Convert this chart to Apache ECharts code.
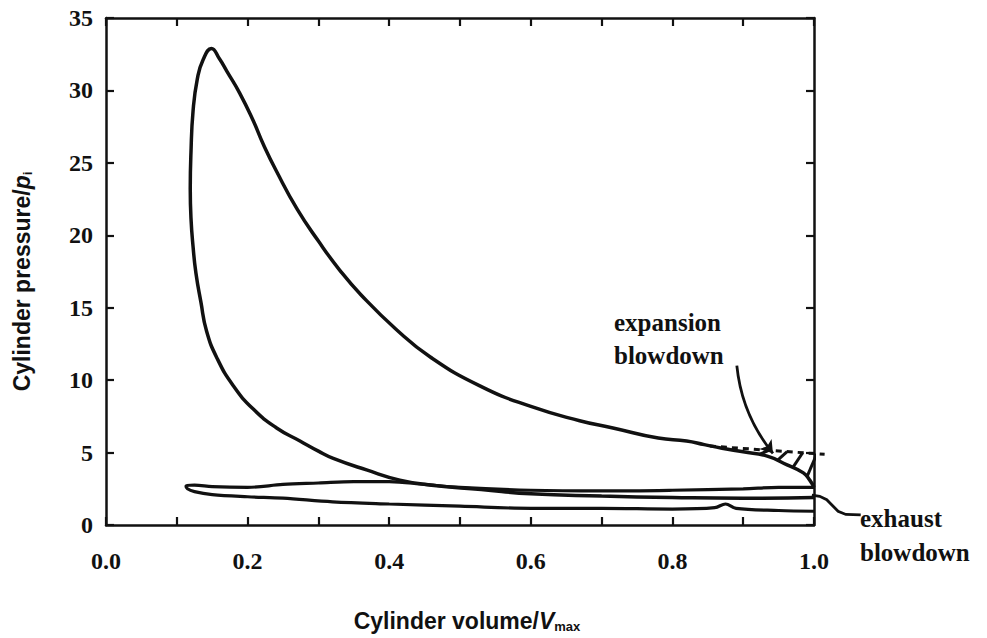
<!DOCTYPE html>
<html lang="en">
<head>
    <meta http-equiv="Content-Type" content="text/html; charset=utf-8"/>
    <title>Cylinder pressure vs volume</title>
    <script type="text/javascript" src="https://cdn.jsdelivr.net/npm/echarts@6/dist/echarts.min.js"></script>
</head>
<style>
    * {
        margin: 0;
        padding: 0;
    }
    html, body {
        width: 100%;
        height: 100%;
        background: #fff;
    }
    .main {
        width: 987px;
        height: 638px;
    }
</style>
<body>
<div id="main" class="main"></div>
</body>
<script type="text/javascript">
    // compression stroke, from BDC up the left side to the pressure peak
    var compV = [1.0, 0.9, 0.8, 0.7, 0.6, 0.53, 0.46, 0.415, 0.368, 0.321, 0.3, 0.274, 0.241, 0.208, 0.18,
        0.157, 0.142, 0.134, 0.127, 0.123, 0.12, 0.119, 0.12, 0.123, 0.129, 0.137, 0.149];
    var compP = [1.9, 1.85, 1.9, 2.0, 2.15, 2.45, 2.75, 3.1, 3.8, 4.6, 5.1, 5.8, 6.7, 8.0, 9.6,
        11.5, 13.4, 15.4, 17.4, 19.2, 21.2, 23.2, 25.7, 28.6, 30.8, 32.1, 32.9];
    // expansion stroke, from the peak down to BDC
    var expV = [0.16, 0.171, 0.189, 0.208, 0.222, 0.241, 0.27, 0.3, 0.33, 0.36, 0.41, 0.458,
        0.528, 0.599, 0.669, 0.716, 0.78, 0.82, 0.845, 0.87, 0.9, 0.934, 0.962, 0.985, 0.994, 1.0];
    var expP = [32.2, 31.3, 29.8, 27.9, 26.3, 24.4, 21.8, 19.6, 17.6, 15.9, 13.5, 11.6,
        9.6, 8.2, 7.2, 6.7, 6.0, 5.8, 5.55, 5.3, 5.05, 4.75, 4.15, 3.6, 3.1, 2.6];
    // pumping loop: exhaust stroke leftwards, then intake stroke rightwards
    var pumpV = [1.0, 0.95, 0.9, 0.8, 0.7, 0.6, 0.5, 0.45, 0.4, 0.35, 0.3, 0.25, 0.2, 0.15, 0.125, 0.113,
        0.115, 0.125, 0.15, 0.2, 0.25, 0.32, 0.4, 0.5, 0.6, 0.7, 0.8, 0.86, 0.875, 0.89, 0.95, 1.0];
    var pumpP = [2.6, 2.6, 2.5, 2.4, 2.35, 2.4, 2.6, 2.8, 3.0, 3.0, 2.9, 2.8, 2.6, 2.65, 2.75, 2.7,
        2.5, 2.3, 2.1, 1.95, 1.85, 1.6, 1.45, 1.3, 1.15, 1.15, 1.1, 1.2, 1.45, 1.15, 1.0, 0.95];
    // ideal (no blowdown) expansion line, dashed
    var dashV = [0.853, 1.015];
    var dashP = [5.45, 4.88];
    // hatching between dashed line and real curve
    var hatchV = [0.922, 0.948, 0.97, 0.99];
    // leader arrows
    var expArrowV = [0.891, 0.942];
    var expArrowP = [11.0, 4.95];
    var exhLeadV = [0.997, 1.008, 1.018, 1.026, 1.034, 1.045, 1.066];
    var exhLeadP = [2.06, 1.98, 1.75, 1.35, 0.95, 0.73, 0.7];

    var xTicks = [0, 1, 0.1];
    var yTicks = [0, 35, 5];

    function zip(a, b) {
        var out = [];
        for (var i = 0; i < a.length; i++) {
            out.push([a[i], b[i]]);
        }
        return out;
    }

    function interp(xs, ys, x) {
        for (var i = 0; i < xs.length - 1; i++) {
            if (x >= xs[i] && x <= xs[i + 1]) {
                var t = (x - xs[i]) / (xs[i + 1] - xs[i]);
                return ys[i] + t * (ys[i + 1] - ys[i]);
            }
        }
        return ys[ys.length - 1];
    }

    var loopData = zip(compV, compP).concat(zip(expV, expP));
    var hatchData = hatchV.map(function (v) {
        var v2 = v + 0.014;
        return {coords: [[v, interp(expV, expP, v)], [v2, interp(dashV, dashP, v2)]]};
    });

    var serif = '"Liberation Serif", "DejaVu Serif", serif';
    var sans = '"Liberation Sans", Arial, sans-serif';
    var ink = '#111';

    var axisLine = {show: true, onZero: false, lineStyle: {color: ink, width: 2.5}};
    var tick = {show: true, inside: true, length: 8, lineStyle: {color: ink, width: 2.2}};

    var chart = echarts.init(document.getElementById('main'), null, {renderer: 'svg'});

    var option = {
        backgroundColor: '#fff',
        animation: false,
        grid: {left: 106, right: 173, top: 18, bottom: 111},
        xAxis: [
            {
                type: 'value',
                min: xTicks[0], max: xTicks[1], interval: xTicks[2],
                axisLine: axisLine,
                axisTick: tick,
                splitLine: {show: false},
                axisLabel: {
                    margin: 24,
                    color: ink,
                    fontFamily: serif,
                    fontWeight: 'bold',
                    fontSize: 24,
                    formatter: function (v) {
                        var k = Math.round(v * 10);
                        return k % 2 === 0 ? (k / 10).toFixed(1) : '';
                    }
                },
                name: '{t|Cylinder volume/}{v|V}{s|max}',
                nameLocation: 'middle',
                nameGap: 83,
                nameTextStyle: {
                    padding: [0, 0, 0, 14],
                    rich: {
                        t: {fontFamily: sans, fontWeight: 'bold', fontSize: 23, color: ink},
                        v: {fontFamily: sans, fontWeight: 'bold', fontStyle: 'italic', fontSize: 23, color: ink},
                        s: {fontFamily: sans, fontWeight: 'bold', fontSize: 13, color: ink, padding: [12, 0, 0, 0]}
                    }
                }
            },
            {
                type: 'value',
                position: 'top',
                min: xTicks[0], max: xTicks[1], interval: xTicks[2],
                axisLine: axisLine,
                axisTick: tick,
                axisLabel: {show: false},
                splitLine: {show: false}
            }
        ],
        yAxis: [
            {
                type: 'value',
                min: yTicks[0], max: yTicks[1], interval: yTicks[2],
                axisLine: axisLine,
                axisTick: tick,
                splitLine: {show: false},
                axisLabel: {
                    margin: 13,
                    color: ink,
                    fontFamily: serif,
                    fontWeight: 'bold',
                    fontSize: 24
                },
                name: '{t|Cylinder pressure/}{v|p}{s|i}',
                nameLocation: 'middle',
                nameGap: 72,
                nameTextStyle: {
                    padding: [0, 20, 0, 0],
                    rich: {
                        t: {fontFamily: sans, fontWeight: 'bold', fontSize: 23, color: ink},
                        v: {fontFamily: sans, fontWeight: 'bold', fontStyle: 'italic', fontSize: 23, color: ink},
                        s: {fontFamily: sans, fontWeight: 'bold', fontSize: 13, color: ink, padding: [12, 0, 0, 0]}
                    }
                }
            },
            {
                type: 'value',
                position: 'right',
                min: yTicks[0], max: yTicks[1], interval: yTicks[2],
                axisLine: axisLine,
                axisTick: tick,
                axisLabel: {show: false},
                splitLine: {show: false}
            }
        ],
        series: [
            {
                name: 'loop',
                type: 'line',
                data: loopData,
                smooth: 0.5,
                symbol: 'none',
                lineStyle: {color: ink, width: 3.5}
            },
            {
                name: 'pumping',
                type: 'line',
                data: zip(pumpV, pumpP),
                smooth: 0.35,
                symbol: 'none',
                lineStyle: {color: ink, width: 3.2}
            },
            {
                name: 'ideal expansion',
                type: 'lines',
                coordinateSystem: 'cartesian2d',
                clip: false,
                data: [{coords: zip(dashV, dashP)}],
                lineStyle: {color: ink, width: 3, type: [6, 5], opacity: 1}
            },
            {
                name: 'hatch',
                type: 'lines',
                coordinateSystem: 'cartesian2d',
                data: hatchData,
                lineStyle: {color: ink, width: 3, opacity: 1}
            },
            {
                name: 'expansion arrow',
                type: 'lines',
                coordinateSystem: 'cartesian2d',
                symbol: ['none', 'arrow'],
                symbolSize: 12,
                data: [{coords: zip(expArrowV, expArrowP)}],
                lineStyle: {color: ink, width: 2.8, opacity: 1, curveness: -0.15}
            },
            {
                name: 'exhaust leader',
                type: 'lines',
                coordinateSystem: 'cartesian2d',
                polyline: true,
                clip: false,
                data: [{coords: zip(exhLeadV, exhLeadP)}],
                lineStyle: {color: ink, width: 2.8, opacity: 1}
            }
        ],
        graphic: [
            {
                type: 'text',
                left: 614,
                top: 306,
                style: {
                    text: 'expansion\nblowdown',
                    fill: ink,
                    font: 'bold 25px ' + serif,
                    lineHeight: 33
                }
            },
            {
                type: 'text',
                left: 860,
                top: 501,
                style: {
                    text: 'exhaust\nblowdown',
                    fill: ink,
                    font: 'bold 25px ' + serif,
                    lineHeight: 34
                }
            }
        ]
    };
    chart.setOption(option);
</script>
</html>
